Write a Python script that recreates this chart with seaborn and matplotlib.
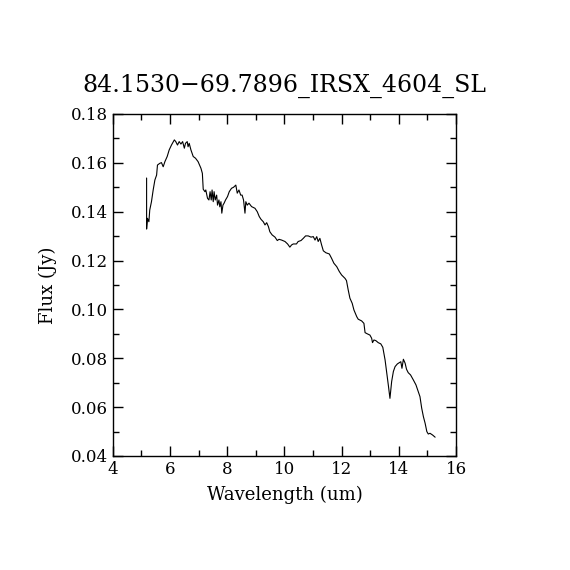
import numpy as np
import pandas as pd
import matplotlib
matplotlib.use("Agg")
import matplotlib.pyplot as plt
import seaborn as sns
from matplotlib.ticker import MultipleLocator

# espectro (comprimento de onda em um, fluxo em Jy)
wavelength = [5.18, 5.18, 5.21, 5.26, 5.29, 5.35, 5.41, 5.47, 5.53, 5.56, 5.64, 5.70,
              5.76, 5.82, 5.90, 5.97, 6.05, 6.15, 6.20, 6.26, 6.32, 6.38, 6.44, 6.50,
              6.54, 6.60, 6.63, 6.67, 6.73, 6.81, 6.89, 6.98, 7.08, 7.13, 7.16, 7.22,
              7.25, 7.31, 7.36, 7.40, 7.44, 7.47, 7.51, 7.54, 7.58, 7.63, 7.66, 7.71,
              7.74, 7.78, 7.81, 7.85, 7.89, 7.94, 8.01, 8.07, 8.15, 8.22, 8.30, 8.35,
              8.41, 8.47, 8.52, 8.57, 8.62, 8.65, 8.70, 8.76, 8.85, 8.97, 9.05, 9.12,
              9.18, 9.26, 9.32, 9.38, 9.44, 9.49, 9.57, 9.67, 9.75, 9.81, 9.90, 10.02,
              10.11, 10.19, 10.25, 10.31, 10.42, 10.48, 10.58, 10.66, 10.74, 10.83, 10.93,
              11.01, 11.07, 11.13, 11.18, 11.24, 11.30, 11.36, 11.45, 11.57, 11.65, 11.73,
              11.83, 11.92, 12.00, 12.12, 12.17, 12.23, 12.29, 12.37, 12.43, 12.53, 12.58,
              12.70, 12.78, 12.82, 12.90, 12.99, 13.05, 13.08, 13.13, 13.20, 13.28, 13.37,
              13.44, 13.52, 13.58, 13.64, 13.69, 13.75, 13.81, 13.87, 13.95, 14.02, 14.07,
              14.11, 14.16, 14.22, 14.27, 14.33, 14.41, 14.51, 14.60, 14.68, 14.74, 14.80,
              14.86, 14.92, 14.98, 15.03, 15.09, 15.18, 15.27]
flux = [0.1538, 0.1329, 0.1373, 0.1359, 0.1407, 0.1441, 0.1489, 0.1530, 0.1550, 0.1591,
        0.1598, 0.1601, 0.1584, 0.1605, 0.1626, 0.1653, 0.1673, 0.1694, 0.1687, 0.1673,
        0.1687, 0.1677, 0.1687, 0.1660, 0.1680, 0.1687, 0.1666, 0.1680, 0.1653, 0.1626,
        0.1619, 0.1605, 0.1578, 0.1557, 0.1492, 0.1482, 0.1489, 0.1455, 0.1448, 0.1482,
        0.1448, 0.1489, 0.1441, 0.1482, 0.1448, 0.1468, 0.1427, 0.1448, 0.1420, 0.1441,
        0.1394, 0.1427, 0.1435, 0.1448, 0.1462, 0.1482, 0.1496, 0.1500, 0.1509, 0.1476,
        0.1489, 0.1468, 0.1468, 0.1448, 0.1394, 0.1441, 0.1427, 0.1435, 0.1421, 0.1414,
        0.1400, 0.1380, 0.1369, 0.1359, 0.1346, 0.1355, 0.1339, 0.1318, 0.1305, 0.1296,
        0.1282, 0.1287, 0.1284, 0.1278, 0.1268, 0.1255, 0.1264, 0.1268, 0.1268, 0.1278,
        0.1282, 0.1291, 0.1301, 0.1301, 0.1296, 0.1298, 0.1284, 0.1298, 0.1278, 0.1291,
        0.1264, 0.1240, 0.1232, 0.1227, 0.1209, 0.1189, 0.1175, 0.1155, 0.1141, 0.1127,
        0.1118, 0.1080, 0.1046, 0.1025, 0.0998, 0.0970, 0.0960, 0.0953, 0.0943, 0.0905,
        0.0900, 0.0895, 0.0882, 0.0864, 0.0875, 0.0872, 0.0864, 0.0859, 0.0845, 0.0793,
        0.0739, 0.0684, 0.0636, 0.0705, 0.0746, 0.0766, 0.0777, 0.0782, 0.0786, 0.0759,
        0.0796, 0.0780, 0.0755, 0.0741, 0.0732, 0.0711, 0.0691, 0.0664, 0.0643, 0.0596,
        0.0561, 0.0534, 0.0500, 0.0490, 0.0493, 0.0486, 0.0477]

titulo = "84.1530\u221269.7896_IRSX_4604_SL"

df = pd.DataFrame({"Wavelength": wavelength, "Flux": flux})

sns.set_style("ticks")
plt.rcParams['font.family'] = ['DejaVu Serif']
plt.rcParams['text.color'] = 'black'
plt.rcParams['axes.labelcolor'] = 'black'

fig = plt.figure(figsize=(5.7, 5.7), dpi=100)
ax = fig.add_axes([0.198, 0.2, 0.602, 0.6])
sns.lineplot(data=df, x="Wavelength", y="Flux", sort=False, estimator=None,
             color="black", linewidth=0.8, ax=ax)

ax.set_xlim(4, 16)
ax.set_ylim(0.04, 0.18)
ax.xaxis.set_major_locator(MultipleLocator(2))
ax.xaxis.set_minor_locator(MultipleLocator(1))
ax.yaxis.set_major_locator(MultipleLocator(0.02))
ax.yaxis.set_minor_locator(MultipleLocator(0.01))
ax.yaxis.set_major_formatter(matplotlib.ticker.FormatStrFormatter('%.2f'))
ax.tick_params(which="both", direction="in", top=True, right=True, width=1,
               colors="black", labelcolor="black", labelsize=12)
ax.tick_params(which="major", length=7)
ax.tick_params(which="minor", length=4)
for s in ax.spines.values():
    s.set_linewidth(1)
    s.set_color("black")

ax.set_xlabel("Wavelength (um)", fontsize=13, labelpad=6, color="black")
ax.set_ylabel("Flux (Jy)", fontsize=13, labelpad=10, color="black")
ax.set_title(titulo, fontsize=17, pad=16, color="black")

fig.savefig("out.png", dpi=100, facecolor="white")
